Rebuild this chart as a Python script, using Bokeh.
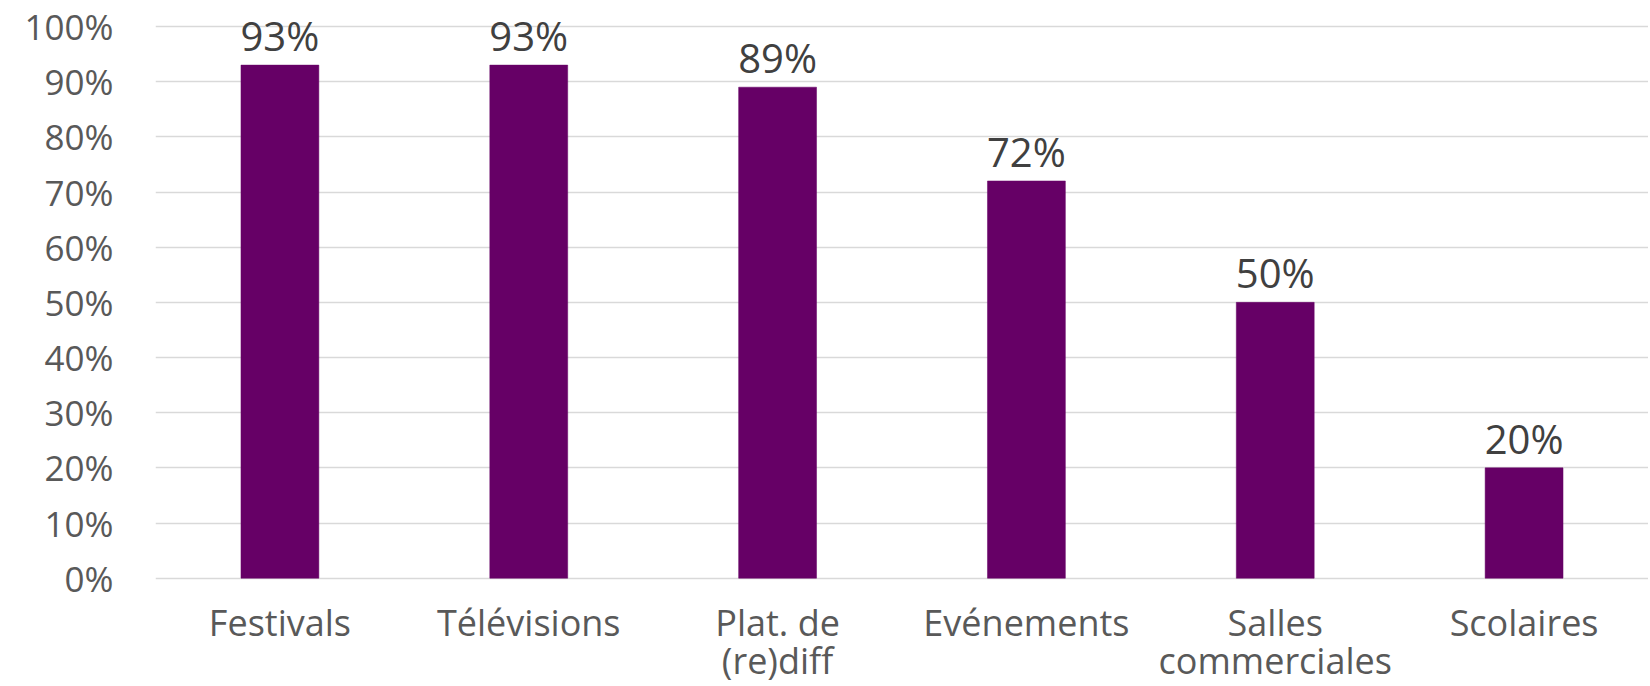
from bokeh.plotting import figure
from bokeh.models import ColumnDataSource, FactorRange, Range1d, FixedTicker, PrintfTickFormatter, LabelSet
from bokeh.core.properties import value
from bokeh.embed import file_html
from bokeh.resources import INLINE

categories = ["Festivals", "Télévisions", "Plat. de (re)diff", "Evénements", "Salles commerciales", "Scolaires"]
label_line1 = ["Festivals", "Télévisions", "Plat. de", "Evénements", "Salles", "Scolaires"]
label_line2 = ["", "", "(re)diff", "", "commerciales", ""]
values = [93, 93, 89, 72, 50, 20]
value_labels = ["93%", "93%", "89%", "72%", "50%", "20%"]
y_ticks = [0, 10, 20, 30, 40, 50, 60, 70, 80, 90, 100]

FONT = "Open Sans"
BAR = "#660066"

source = ColumnDataSource(dict(cat=categories, val=values, lab=value_labels,
                               l1=label_line1, l2=label_line2))

# y range extends past 0..100 so the value labels above bars and category labels
# below the baseline stay inside the plotting frame
p = figure(width=1648, height=686, x_range=FactorRange(*categories), y_range=Range1d(-19.63, 104.35),
           output_backend="svg", toolbar_location=None,
           min_border_left=155, min_border_right=0, min_border_top=2, min_border_bottom=0)
p.outline_line_color = None
p.background_fill_color = "white"
p.border_fill_color = "white"
p.x_range.range_padding = 0

p.vbar(x="cat", top="val", width=0.313, source=source, fill_color=BAR, line_color=BAR, line_width=0.5)

labels = LabelSet(x="cat", y="val", text="lab", source=source, text_align="center", text_baseline="alphabetic",
                  y_offset=14, text_font=value(FONT), text_font_size="40px", text_color="#404040")
p.add_layout(labels)

cat1 = LabelSet(x="cat", y=0, text="l1", source=source, text_align="center", text_baseline="alphabetic",
                y_offset=-58, text_font=value(FONT), text_font_size="36px", text_color="#595959")
cat2 = LabelSet(x="cat", y=0, text="l2", source=source, text_align="center", text_baseline="alphabetic",
                y_offset=-96, text_font=value(FONT), text_font_size="36px", text_color="#595959")
p.add_layout(cat1)
p.add_layout(cat2)

p.xaxis.visible = False

p.yaxis.ticker = FixedTicker(ticks=y_ticks)
p.yaxis.formatter = PrintfTickFormatter(format="%d%%")
p.yaxis.axis_line_color = None
p.yaxis.major_tick_line_color = None
p.yaxis.minor_tick_line_color = None
p.yaxis.major_tick_out = 0
p.yaxis.major_tick_in = 0
p.yaxis.minor_tick_out = 0
p.yaxis.minor_tick_in = 0
p.yaxis.major_label_text_font = FONT
p.yaxis.major_label_text_color = "#595959"
p.yaxis.major_label_text_font_size = "35px"
p.yaxis.major_label_standoff = 42

p.xgrid.grid_line_color = None
p.ygrid.grid_line_color = "#d9d9d9"
p.ygrid.grid_line_width = 1.5

open("out.html", "w").write(file_html(p, INLINE))
